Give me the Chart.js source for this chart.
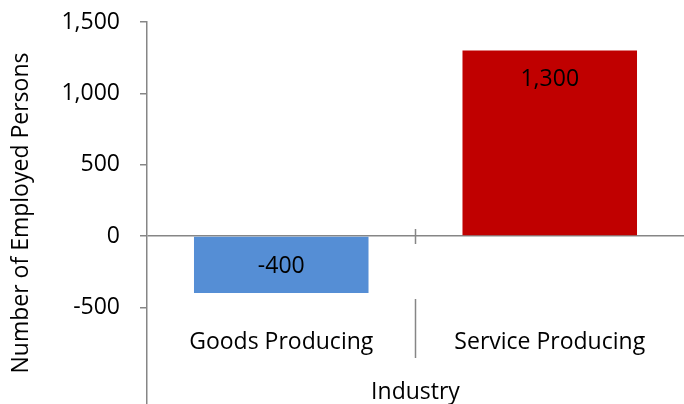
<!DOCTYPE html>
<html>
<head>
<meta charset="utf-8">
<script src="https://cdn.jsdelivr.net/npm/chart.js@4.4.1/dist/chart.umd.min.js"></script>
<style>
  html, body { margin: 0; padding: 0; background: #fff; }
  #wrap { width: 684px; height: 404px; }
</style>
</head>
<body>
<div id="wrap"><canvas id="grafico" width="684" height="404"></canvas></div>
<script>
// data
const categorias = ['Goods Producing', 'Service Producing'];
const valores = [-400, 1300];
const cores = ['#558ED5', '#C00000'];
const ticksY = [-500, 0, 500, 1000, 1500];
const tituloY = 'Number of Employed Persons';
const tituloX = 'Industry';

const fonte = '"Open Sans", "Liberation Sans", sans-serif';
const cinza = '#868686';

const fmt = v => v.toLocaleString('en-US');

// labels inside bar ends, category labels, dividers, x title
const extras = {
  id: 'extras',
  afterDatasetsDraw(chart) {
    const { ctx } = chart;
    const meta = chart.getDatasetMeta(0);
    ctx.save();
    ctx.font = '23px ' + fonte;
    ctx.fillStyle = '#000';
    ctx.textAlign = 'center';
    ctx.textBaseline = 'middle';
    meta.data.forEach((bar, i) => {
      const v = valores[i];
      const y = v >= 0 ? bar.y + 29 : bar.y - 27;
      ctx.fillText(fmt(v), bar.x, y);
    });
    ctx.restore();
  },
  afterDraw(chart) {
    const { ctx } = chart;
    const x = chart.scales.x;
    const y = chart.scales.y;
    const y0 = y.getPixelForValue(0);
    ctx.save();
    ctx.strokeStyle = cinza;
    ctx.lineWidth = 1.5;
    for (let i = 0; i < categorias.length - 1; i++) {
      const xd = (x.getPixelForValue(i) + x.getPixelForValue(i + 1)) / 2;
      ctx.beginPath();
      ctx.moveTo(xd, y0 - 7);
      ctx.lineTo(xd, y0 + 8);
      ctx.moveTo(xd, y0 + 63);
      ctx.lineTo(xd, y0 + 122);
      ctx.stroke();
    }
    ctx.font = '23px ' + fonte;
    ctx.fillStyle = '#000';
    ctx.textAlign = 'center';
    ctx.textBaseline = 'middle';
    categorias.forEach((c, i) => {
      ctx.fillText(c, x.getPixelForValue(i), y0 + 106);
    });
    ctx.fillText(tituloX, (chart.chartArea.left + chart.chartArea.right) / 2, y0 + 156);
    ctx.restore();
  }
};

new Chart(document.getElementById('grafico'), {
  type: 'bar',
  data: {
    labels: categorias,
    datasets: [{
      data: valores,
      backgroundColor: cores,
      borderWidth: 0,
      categoryPercentage: 1,
      barPercentage: 0.65
    }]
  },
  options: {
    responsive: false,
    animation: false,
    devicePixelRatio: 1,
    layout: { padding: { top: 22, right: -3, bottom: 0, left: 0 } },
    plugins: { legend: { display: false }, tooltip: { enabled: false } },
    scales: {
      x: { display: false },
      y: {
        min: -1178,
        max: 1500,
        afterBuildTicks: s => { s.ticks = ticksY.map(v => ({ value: v })); },
        afterFit: s => { s.width = 147; s.paddingTop = 0; s.paddingBottom = 0; },
        border: { color: cinza, width: 1.5 },
        grid: {
          color: c => (c.tick && c.tick.value === 0 ? cinza : 'rgba(0,0,0,0)'),
          lineWidth: 1.5,
          tickColor: cinza,
          tickLength: 7
        },
        ticks: {
          color: '#000',
          padding: 20,
          font: { family: fonte, size: 23 },
          callback: v => fmt(v)
        },
        title: {
          display: true,
          text: tituloY,
          color: '#000',
          font: { family: fonte, size: 23 },
          padding: { top: 8, bottom: 0 }
        }
      }
    }
  },
  plugins: [extras]
});
</script>
</body>
</html>
